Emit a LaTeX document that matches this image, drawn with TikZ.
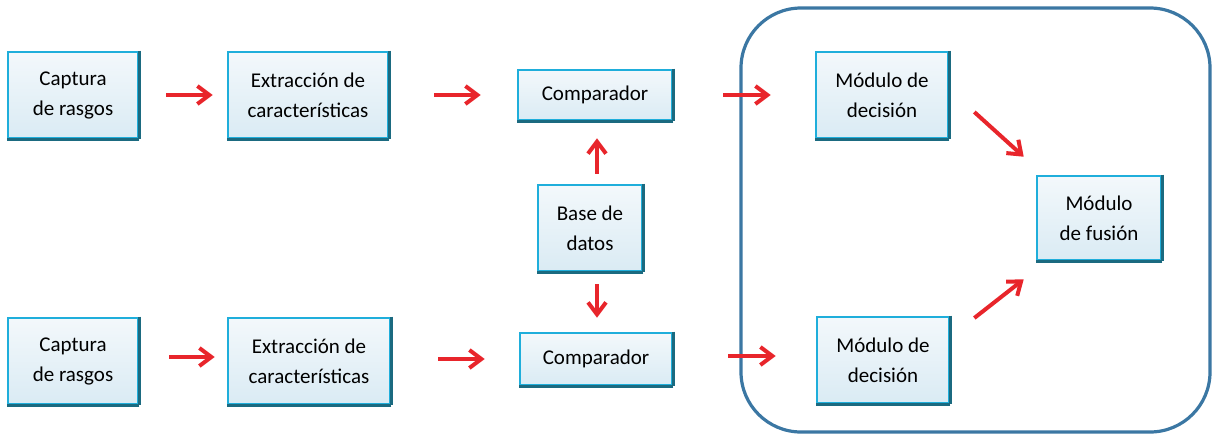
\documentclass[tikz,border=0pt]{standalone}
\usepackage{fontspec}
\setmainfont{Carlito}
\usepackage{xcolor}
\usepackage{tikz}
\usetikzlibrary{positioning,calc,arrows.meta}

\definecolor{rojo}{HTML}{E8252B}
\definecolor{bordeC}{HTML}{1FAEDB}
\definecolor{bordeO}{HTML}{1B6A80}
\definecolor{marco}{HTML}{3B77A3}
\definecolor{fondoA}{HTML}{F3F8FB}
\definecolor{fondoB}{HTML}{DAEBF4}

\tikzset{
	caja/.style={draw=bordeC, line width=1.3pt, top color=fondoA, bottom color=fondoB,
		align=center, inner sep=2pt, font=\fontsize{10.5}{15}\selectfont,
		append after command={(\tikzlastnode.north east) edge[draw=bordeO,line width=1.4pt] (\tikzlastnode.south east)
			(\tikzlastnode.south east) edge[draw=bordeO,line width=1.4pt] (\tikzlastnode.south west)}},
	flecha/.style={draw=rojo, line width=2pt, -{Straight Barb[length=6pt,width=9pt]}}
}

\begin{document}
\begin{tikzpicture}[x=0.5pt,y=-0.5pt]
	\useasboundingbox (0,0) rectangle (1213,436);
	
	% marco de la fusión
	\draw[marco, line width=1.6pt, rounded corners=30pt] (741,8) rectangle (1210,432);
	
	% fila superior
	\node[caja, minimum width=65pt, minimum height=43pt] (cap1) at (73,95) {Captura\\de rasgos};
	\node[caja, minimum width=80pt, minimum height=43pt] (ext1) at (308,95) {Extracción de\\características};
	\node[caja, minimum width=77pt, minimum height=25pt] (com1) at (595,95) {Comparador};
	\node[caja, minimum width=66pt, minimum height=43pt] (dec1) at (882,95) {Módulo de\\decisión};
	
	% base de datos y fusión
	\node[caja, minimum width=52pt, minimum height=43pt] (base) at (590,228) {Base de\\datos};
	\node[caja, minimum width=62pt, minimum height=42pt] (fus) at (1099,218) {Módulo\\de fusión};
	
	% fila inferior
	\node[caja, minimum width=65pt, minimum height=43pt] (cap2) at (73,361) {Captura\\de rasgos};
	\node[caja, minimum width=81pt, minimum height=43pt] (ext2) at (309,361) {Extracción de\\características};
	\node[caja, minimum width=76pt, minimum height=26pt] (com2) at (596,359) {Comparador};
	\node[caja, minimum width=66pt, minimum height=43pt] (dec2) at (883,360) {Módulo de\\decisión};
	
	% flechas
	\draw[flecha] ([shift={(27,0)}]cap1.east) -- ([shift={(-14,0)}]ext1.west);
	\draw[flecha] ([shift={(45,0)}]ext1.east) -- ([shift={(-36,0)}]com1.west);
	\draw[flecha] ([shift={(50,0)}]com1.east) -- ([shift={(-44,0)}]dec1.west);
	\draw[flecha] ([shift={(30,-4)}]cap2.east) -- ([shift={(-12,-4)}]ext2.west);
	\draw[flecha] ([shift={(47,-2)}]ext2.east) -- ([shift={(-34,0)}]com2.west);
	\draw[flecha] ([shift={(55,-3)}]com2.east) -- ([shift={(-40,-4)}]dec2.west);
	\draw[flecha] ([shift={(7,-10)}]base.north) -- ([shift={(2,17)}]com1.south);
	\draw[flecha] ([shift={(7,12)}]base.south) -- ([shift={(1,-14)}]com2.north);
	\draw[flecha] ([shift={(25,17)}]dec1.east) -- ([shift={(-12,-18)}]fus.north west);
	\draw[flecha] ([shift={(24,-42)}]dec2.east) -- ([shift={(-12,18)}]fus.south west);
\end{tikzpicture}
\end{document}
